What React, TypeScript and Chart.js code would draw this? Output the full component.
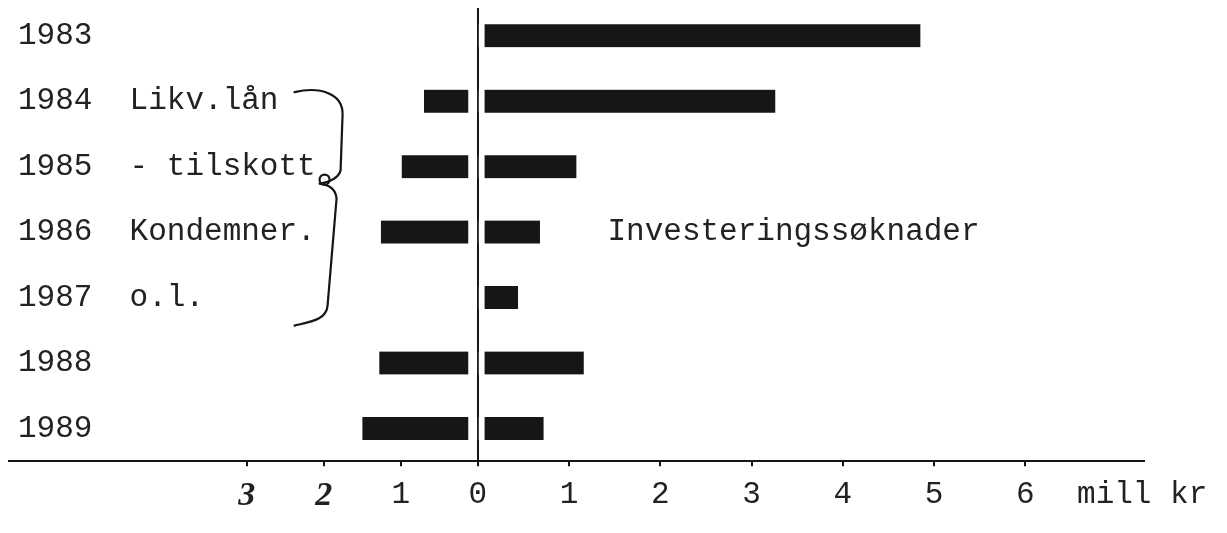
import React, { useEffect, useRef } from 'react';
import { Chart, registerables, LinearScale } from 'chart.js';

// ---------- data ----------
const YEARS = ['1983', '1984', '1985', '1986', '1987', '1988', '1989'];
const NOTES = ['', 'Likv.lån', '- tilskott', 'Kondemner.', 'o.l.', '', ''];
// Likviditetslån / tilskott etc. (mill kr, drawn to the left)
const LIKV_LAN = [null, -0.7, -0.99, -1.26, null, -1.28, -1.5];
// Investeringssøknader (mill kr)
const INVESTERING = [4.85, 3.26, 1.08, 0.68, 0.44, 1.16, 0.72];
const X_TICK_VALUES = [-3, -2, -1, 0, 1, 2, 3, 4, 5, 6];
const UNIT_LABEL = 'mill kr';
const SERIES_LABEL = 'Investeringssøknader';

// ---------- style / layout constants ----------
const NEG_UNIT_RATIO = 77 / 91.2; // the hand-drawn negative side uses a shorter unit
const X_MIN = -6.1;
const X_MAX = 7.3;
const UNIT_TICK = 7.28;
const SERIES_LABEL_AT = 1.42;
const BRACE_AT = -1.9;
const MONO = "'Liberation Mono', 'DejaVu Sans Mono', monospace";
const INK = '#161616';

class SplitLinearScale extends LinearScale {
  static id = 'splitLinear';
  _t(v: number) {
    return v < 0 ? v * NEG_UNIT_RATIO : v;
  }
  getPixelForValue(value: any) {
    if (value === null || value === undefined || isNaN(value)) return NaN;
    const a = this._t(this.min);
    const b = this._t(this.max);
    return this.getPixelForDecimal((this._t(value) - a) / (b - a));
  }
  getValueForPixel(pixel: number) {
    const a = this._t(this.min);
    const b = this._t(this.max);
    const t = a + this.getDecimalForPixel(pixel) * (b - a);
    return t < 0 ? t / NEG_UNIT_RATIO : t;
  }
}

Chart.register(...registerables, SplitLinearScale as any);

const annotationPlugin = {
  id: 'annotations',
  afterDatasetsDraw(chart: any) {
    const { ctx } = chart;
    const xs = chart.scales.x;
    const ys = chart.scales.y;
    ctx.save();
    // series label
    ctx.fillStyle = '#222';
    ctx.font = `31px ${MONO}`;
    ctx.textAlign = 'left';
    ctx.textBaseline = 'middle';
    ctx.fillText(SERIES_LABEL, xs.getPixelForValue(SERIES_LABEL_AT), ys.getPixelForValue(3));

    // hand-drawn brace spanning 1984-1987
    const X0 = xs.getPixelForValue(BRACE_AT);
    const y1 = ys.getPixelForValue(1);
    const y2 = ys.getPixelForValue(2);
    const y4 = ys.getPixelForValue(4);
    ctx.strokeStyle = INK;
    ctx.lineWidth = 2.2;
    ctx.lineCap = 'round';
    ctx.lineJoin = 'round';
    ctx.beginPath();
    ctx.moveTo(X0 - 37, y1 - 9);
    ctx.bezierCurveTo(X0 - 12, y1 - 15, X0 + 12, y1 - 8, X0 + 11, y1 + 14);
    ctx.lineTo(X0 + 9, y2 + 4);
    ctx.quadraticCurveTo(X0 + 6, y2 + 14, X0 - 12, y2 + 17);
    ctx.quadraticCurveTo(X0 + 4, y2 + 19, X0 + 5, y2 + 32);
    ctx.lineTo(X0 - 4, y4 + 8);
    ctx.bezierCurveTo(X0 - 5, y4 + 22, X0 - 20, y4 + 24, X0 - 37, y4 + 28);
    ctx.stroke();
    ctx.beginPath();
    ctx.arc(X0 - 7, y2 + 13, 5, 0, Math.PI * 2);
    ctx.stroke();
    ctx.restore();
  },
};

export default function App() {
  const canvasRef = useRef<HTMLCanvasElement | null>(null);

  useEffect(() => {
    if (!canvasRef.current) return;
    const allTicks = [...X_TICK_VALUES, UNIT_TICK];
    const chart = new Chart(canvasRef.current, {
      type: 'bar',
      data: {
        labels: YEARS,
        datasets: [
          {
            label: 'Likv.lån - tilskott, Kondemner. o.l.',
            data: LIKV_LAN as any,
            backgroundColor: INK,
            borderColor: '#ffffff',
            borderWidth: { left: 0, right: 9, top: 0, bottom: 0 } as any,
            borderSkipped: false,
            stack: 's',
            barThickness: 23,
          },
          {
            label: SERIES_LABEL,
            data: INVESTERING,
            backgroundColor: INK,
            borderColor: '#ffffff',
            borderWidth: { left: 6, right: 0, top: 0, bottom: 0 } as any,
            borderSkipped: false,
            stack: 's',
            barThickness: 23,
          },
        ],
      },
      options: {
        indexAxis: 'y',
        animation: false,
        responsive: true,
        maintainAspectRatio: false,
        layout: { padding: { left: 0, right: 75, top: 0, bottom: 0 } },
        plugins: { legend: { display: false }, tooltip: { enabled: false } },
        scales: {
          x: {
            type: 'splitLinear' as any,
            min: X_MIN,
            max: X_MAX,
            z: 1,
            afterBuildTicks: (s: any) => {
              s.ticks = allTicks.map((v) => ({ value: v }));
            },
            afterFit: (s: any) => {
              s.paddingLeft = 0;
              s.paddingRight = 0;
            },
            ticks: {
              autoSkip: false,
              maxRotation: 0,
              padding: 10,
              color: '#222',
              font: (c: any) =>
                c.tick && c.tick.value <= -2
                  ? { family: "'Liberation Serif', serif", style: 'italic', weight: 'bold', size: 34 }
                  : { family: MONO, size: 31 },
              callback: (v: any) => (v === UNIT_TICK ? UNIT_LABEL : String(Math.abs(Number(v)))),
            },
            grid: {
              drawOnChartArea: true,
              color: (c: any) => (c.tick && c.tick.value === 0 ? INK : 'rgba(0,0,0,0)'),
              lineWidth: 2,
              tickColor: (c: any) => (c.tick && c.tick.value === UNIT_TICK ? 'rgba(0,0,0,0)' : INK),
              tickLength: 5,
              tickWidth: 2,
            } as any,
            border: { display: true, color: INK, width: 2 },
          },
          y: {
            type: 'category',
            offset: true,
            afterFit: (s: any) => {
              s.width = 0;
              s.paddingTop = 0;
              s.paddingBottom = 0;
              s.paddingLeft = 0;
              s.paddingRight = 0;
            },
            ticks: {
              mirror: true,
              padding: 10,
              color: '#222',
              font: { family: MONO, size: 31 },
              callback: (_v: any, i: number) => YEARS[i] + (NOTES[i] ? '  ' + NOTES[i] : ''),
            },
            grid: { display: false, drawTicks: false },
            border: { display: false },
          },
        },
      },
      plugins: [annotationPlugin],
    });
    return () => chart.destroy();
  }, []);

  return (
    <div style={{ width: '100%', height: '524px', marginTop: '-5px', position: 'relative' }}>
      <canvas ref={canvasRef} style={{ display: 'block' }} />
    </div>
  );
}
